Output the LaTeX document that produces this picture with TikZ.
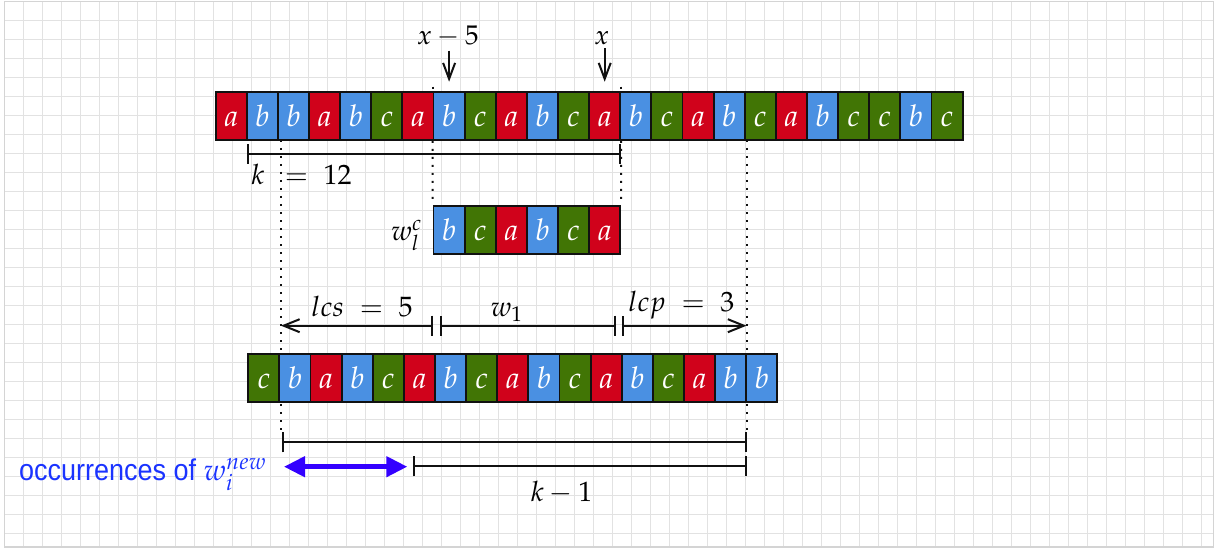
\documentclass[tikz,border=0pt]{standalone}
\usepackage{mathpazo}
\usepackage[no-math]{fontspec}
\newfontfamily\occfont[FakeStretch=0.9]{Liberation Sans}
\usetikzlibrary{arrows.meta,calc}
\definecolor{cola}{HTML}{D0021B}
\definecolor{colb}{HTML}{4A90E2}
\definecolor{colc}{HTML}{417505}
\definecolor{occtext}{HTML}{1A33FF}
\definecolor{occarrow}{HTML}{3300FF}
\definecolor{gridgray}{HTML}{E2E2E2}
\definecolor{framegray}{HTML}{D4D4D4}
\definecolor{ink}{HTML}{111111}
\tikzset{
  gridln/.style={draw=gridgray, line width=0.9pt},
  frameln/.style={draw=framegray, line width=1.6pt},
  cellbox/.style={draw=ink, line width=1.9pt, minimum width=31.12pt, minimum height=48.3pt,
    inner sep=0pt, text=white, text height=21.1pt, text depth=0pt,
    font=\fontsize{30}{33}\selectfont},
  lbl/.style={inner sep=0pt, font=\fontsize{28}{32}\selectfont},
  dotline/.style={draw=ink, line width=2pt, dash pattern=on 2pt off 6pt},
  dimbar/.style={draw=ink, line width=2pt, {Bar[width=20pt]}-{Bar[width=20pt]}},
  dimarrow/.style={draw=ink, line width=2pt, {Bar[width=20pt]}-{Straight Barb[length=16pt,width=13pt]}},
  downarr/.style={draw=ink, line width=2pt, -{Straight Barb[length=16pt,width=12pt]}},
  occarr/.style={draw=occarrow, fill=occarrow, line width=4.5pt,
    {Triangle[length=21pt,width=20pt]}-{Triangle[length=21pt,width=20pt]}}
}
\begin{document}
\begin{tikzpicture}[x=1pt,y=-1pt]
\useasboundingbox (0,0) rectangle (1220,548);
\fill[white] (0,0) rectangle (1220,548);
% background grid
\foreach \i in {0,...,63} \draw[gridln] ({4.3+19*\i},1.7) -- ({4.3+19*\i},546.7);
\foreach \j in {0,...,28} \draw[gridln] (4.3,{1.7+19*\j}) -- (1213.3,{1.7+19*\j});
\draw[frameln] (4.3,1.7) rectangle (1213.3,546.7);

% long dotted guides
\coordinate (gA1) at (280.8,140); \coordinate (gA2) at (280.8,432);
\coordinate (gB1) at (746.5,140); \coordinate (gB2) at (746.5,432);
\draw[dotline] (gA1) -- (gA2);
\draw[dotline] (gB1) -- (gB2);

% top string
\foreach \l [count=\i from 0] in {a,b,b,a,b,c,a,b,c,a,b,c,a,b,c,a,b,c,a,b,c,c,b,c}
  \node[cellbox, fill=col\l] (t\i) at ({231.26+31.12*\i},115.85) {$\l$};
% w_l^c
\foreach \l [count=\i from 0] in {b,c,a,b,c,a}
  \node[cellbox, fill=col\l] (w\i) at ({449.1+31.12*\i},229.85) {$\l$};
% bottom string
\foreach \l [count=\i from 0] in {c,b,a,b,c,a,b,c,a,b,c,a,b,c,a,b,b}
  \node[cellbox, fill=col\l] (b\i) at ({263.86+31.12*\i},378.15) {$\l$};

% short dotted guides between top string and w_l^c
\draw[dotline] ([yshift=4pt]t7.north west) -- (t7.north west);
\draw[dotline] (t7.south west) -- (w0.north west);
\draw[dotline] ([yshift=4pt]t12.north east) -- (t12.north east);
\draw[dotline] (t12.south east) -- (w5.north east);

% position labels and arrows
\node[lbl, anchor=base, font=\fontsize{27}{30}\selectfont] (xm5) at (447.8,45) {$x-5$};
\node[lbl, anchor=base, font=\fontsize{27}{30}\selectfont] (xx) at (601.7,45) {$x$};
\draw[downarr] ($(xm5.south -| t7.north)+(0,3)$) -- ([yshift=9pt]t7.north);
\draw[downarr] ($(xx.south -| t12.north)+(0,3)$) -- ([yshift=9pt]t12.north);

% k = 12
\coordinate (kL) at (246.7,154); \coordinate (kR) at (621,154);
\draw[dimbar] (kL) -- (kR);
\node[lbl, anchor=base west] (klab) at (251,185) {$k\;\,=\;12$};

% w_l^c label
\node[lbl, anchor=base east] (wlab) at (422,240.5) {$w_l^c$};

% lcs / w1 / lcp
\coordinate (lcsTip) at (281,325.7); \coordinate (lcsBar) at (433.3,325.7);
\coordinate (w1L) at (440,325.7);   \coordinate (w1R) at (616,325.7);
\coordinate (lcpBar) at (621.7,325.7); \coordinate (lcpTip) at (746.5,325.7);
\draw[dimarrow] (lcsBar) -- (lcsTip);
\draw[dimbar] (w1L) -- (w1R);
\draw[dimarrow] (lcpBar) -- (lcpTip);
\node[lbl, anchor=base west] (lcslab) at (311,316.7) {$lcs\;=\;5$};
\node[lbl, anchor=base west] (w1lab) at (490.5,316.7) {$w_1$};
\node[lbl, anchor=base west] (lcplab) at (628,311.7) {$lcp\;=\;3$};

% bottom bars
\coordinate (ubL) at (281.5,442.3); \coordinate (ubR) at (747.3,442.3);
\coordinate (lbL) at (413.3,466.3); \coordinate (lbR) at (747.3,466.3);
\draw[dimbar] (ubL) -- (ubR);
\draw[dimbar] (lbL) -- (lbR);
\node[lbl, anchor=base] (km1) at (561.5,501.7) {$k-1$};

% occurrences
\coordinate (occL) at (284,466.7); \coordinate (occR) at (407.3,466.7);
\draw[occarr] (occL) -- (occR);
\node[anchor=base west, inner sep=0pt, text=occtext, font=\fontsize{30}{34}\selectfont] (occ) at (19,480)
  {\occfont occurrences of $w_i^{new}$};
\end{tikzpicture}
\end{document}
